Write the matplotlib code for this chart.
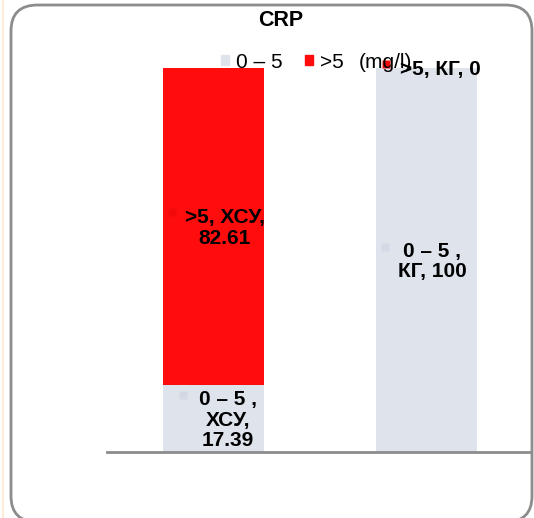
import matplotlib
matplotlib.use("Agg")
import matplotlib.pyplot as plt
from matplotlib.patches import FancyBboxPatch, Patch
import matplotlib.transforms as mtransforms

plt.rcParams['font.family'] = ['Liberation Sans', 'DejaVu Sans']

# ---- data ----
groups = ["ХСУ", "КГ"]
series_names = ["0 – 5", ">5"]
low_vals = [17.39, 100]      # 0 – 5
high_vals = [82.61, 0]       # >5
colors = ["#DEE3EC", "#FF0D0D"]
key_colors = ["#D3D9E4", "#F20A0A"]
title = "CRP"
unit = "(mg/l)"

W, H = 534, 518
fig = plt.figure(figsize=(W / 100, H / 100), dpi=100)

# rounded border
border = FancyBboxPatch((11 / W, (H - 522) / H), (532 - 11) / W, (522 - 5) / H,
                        boxstyle="round,pad=0,rounding_size=0.05",
                        transform=fig.transFigure, fill=False,
                        edgecolor="#8C8C8C", lw=2, clip_on=False)
fig.patches.append(border)
fig.add_artist(plt.Line2D([3 / W, 3 / W], [0, 1], color="#FCEBD6", lw=1.5,
                          transform=fig.transFigure))

ax_left, ax_right = 107, 530
ax_bottom, ax_top = 452, 68
ax = fig.add_axes([ax_left / W, (H - ax_bottom) / H,
                   (ax_right - ax_left) / W, (ax_bottom - ax_top) / H])
x = [0, 1]
width = 0.474
ax.bar(x, low_vals, width, color=colors[0], label=series_names[0])
ax.bar(x, high_vals, width, bottom=low_vals, color=colors[1], label=series_names[1])
ax.set_xlim(-0.502, 1.4836)
ax.set_ylim(0, 100)
for s in ["top", "right", "left"]:
    ax.spines[s].set_visible(False)
ax.spines["bottom"].set_color("#8C8C8C")
ax.spines["bottom"].set_linewidth(2)
ax.set_xticks([])
ax.set_yticks([])
ax.patch.set_alpha(0)

def fmt(v):
    return ("%.2f" % v) if v != int(v) else "%d" % v

# data labels: (bar index, series index, text, text dx, key dx, key dy)
labels = [
    (0, 0, "0 – 5 ,\n{g},\n{v}", 14, -31, 24),
    (0, 1, ">5, {g},\n{v}", 11, -42, 15),
    (1, 0, "0 – 5 ,\n{g}, {v}", 5, -42, 13),
    (1, 1, ">5, {g}, {v}", 13, -41, 4),
]
for bi, si, tmpl, tdx, kdx, kdy in labels:
    vals = low_vals if si == 0 else high_vals
    bottom = 0 if si == 0 else low_vals[bi]
    ymid = bottom + vals[bi] / 2
    txt = tmpl.format(g=groups[bi], v=fmt(vals[bi]))
    ax.annotate(txt, (x[bi], ymid), xytext=(tdx * 0.72, -1.5 * 0.72),
                textcoords="offset points", ha="center", va="center",
                fontsize=15, fontweight="bold", linespacing=1.1,
                annotation_clip=False, zorder=5)
    tr = mtransforms.offset_copy(ax.transData, fig=fig, x=kdx * 0.72, y=kdy * 0.72,
                                 units="points")
    ax.plot([x[bi]], [ymid], marker="s", ms=6, color=key_colors[si], mec="none",
            transform=tr, clip_on=False, zorder=4)

# legend
handles = [Patch(color=colors[0]), Patch(color=colors[1])]
leg = fig.legend(handles, series_names, loc="center left",
                 bbox_to_anchor=(221 / W, 1 - 62 / H), ncol=2, frameon=False,
                 handlelength=0.4, handleheight=0.4, handletextpad=0.3,
                 columnspacing=1.1, fontsize=15, borderaxespad=0, borderpad=0)
fig.text(359 / W, 1 - 63 / H, unit, fontsize=15, ha="left", va="center")

fig.text(281 / W, 1 - 20 / H, title, fontsize=15.5, fontweight="bold",
         ha="center", va="center")

fig.savefig("out.png", dpi=100)
